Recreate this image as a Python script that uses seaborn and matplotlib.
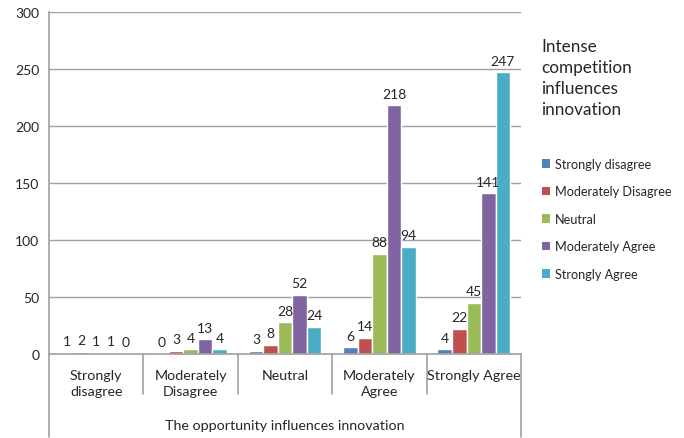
import matplotlib
matplotlib.use("Agg")
import matplotlib.pyplot as plt
import matplotlib.transforms as mtransforms
from matplotlib.patches import Patch
import seaborn as sns
import pandas as pd

groups = ["Strongly disagree", "Moderately Disagree", "Neutral", "Moderately Agree", "Strongly Agree"]
group_labels = ["Strongly\ndisagree", "Moderately\nDisagree", "Neutral", "Moderately\nAgree", "Strongly Agree"]
series = ["Strongly disagree", "Moderately Disagree", "Neutral", "Moderately Agree", "Strongly Agree"]
vals_strongly_disagree = [1, 0, 3, 6, 4]
vals_moderately_disagree = [2, 3, 8, 14, 22]
vals_neutral = [1, 4, 28, 88, 45]
vals_moderately_agree = [1, 13, 52, 218, 141]
vals_strongly_agree = [0, 4, 24, 94, 247]
colors = ["#4F81BD", "#C0504D", "#9BBB59", "#8064A2", "#4BACC6"]
x_title = "The opportunity influences innovation"
legend_title = "Intense\ncompetition\ninfluences\ninnovation"

series_vals = [vals_strongly_disagree, vals_moderately_disagree, vals_neutral,
               vals_moderately_agree, vals_strongly_agree]
rows = []
for s, vals in zip(series, series_vals):
    for g, v in zip(groups, vals):
        rows.append({"group": g, "series": s, "value": v})
df = pd.DataFrame(rows)

sns.set_theme(style="white")
plt.rcParams["font.family"] = ["Lato", "DejaVu Sans"]
text_color = "#262626"

fig = plt.figure(figsize=(6.84, 4.39), dpi=100)
ax = fig.add_axes([49/684, 1-355/439, (521-49)/684, (355-13)/439])

sns.barplot(data=df, x="group", y="value", hue="series", order=groups, hue_order=series,
            palette=colors, width=0.77, gap=0, ax=ax, legend=False, errorbar=None,
            saturation=1)

for c in ax.containers:
    ax.bar_label(c, padding=4, fontsize=10, color=text_color)

ax.set_xlim(-0.5, 4.5)
ax.set_ylim(0, 300)
ax.set_yticks(range(0, 301, 50))
ax.tick_params(axis="y", labelsize=10, labelcolor=text_color, length=4, color="#A0A0A0", width=1, pad=3)
ax.set_xticks([])
ax.set_xlabel("")
ax.set_ylabel("")
ax.yaxis.grid(True, color="#A0A0A0", linewidth=1)
ax.set_axisbelow(True)
for side in ["top", "right"]:
    ax.spines[side].set_visible(False)
for side in ["left", "bottom"]:
    ax.spines[side].set_color("#A0A0A0")
    ax.spines[side].set_linewidth(1.2)

trans = mtransforms.blended_transform_factory(ax.transData, ax.transAxes)
ax_h_px = 355 - 13
def yfrac(px_below):
    return -px_below / ax_h_px

for i, lab in enumerate(group_labels):
    ax.text(i, yfrac(15), lab, transform=trans, ha="center", va="top",
            fontsize=10.3, color=text_color, linespacing=1.45)

for b in [0.5, 1.5, 2.5, 3.5]:
    ax.plot([b, b], [0, yfrac(40)], transform=trans, color="#A0A0A0", lw=1.2, clip_on=False)
for b in [-0.5, 4.5]:
    ax.plot([b, b], [0, yfrac(83)], transform=trans, color="#A0A0A0", lw=1.2, clip_on=False)

ax.text(2.0, yfrac(71), x_title, transform=trans, ha="center", va="center",
        fontsize=10.3, color=text_color)

fig.text(541/684, 1-39/439, legend_title, ha="left", va="top", fontsize=12.3,
         color=text_color, linespacing=1.38)

handles = [Patch(facecolor=c, edgecolor="none") for c in colors]
fig.legend(handles, series, loc="upper left", bbox_to_anchor=(537/684, 1-154/439),
           frameon=False, fontsize=9.1, handlelength=0.65, handleheight=0.65,
           handletextpad=0.4, labelspacing=1.22, borderaxespad=0, labelcolor=text_color)

fig.savefig("out.png", dpi=100)
